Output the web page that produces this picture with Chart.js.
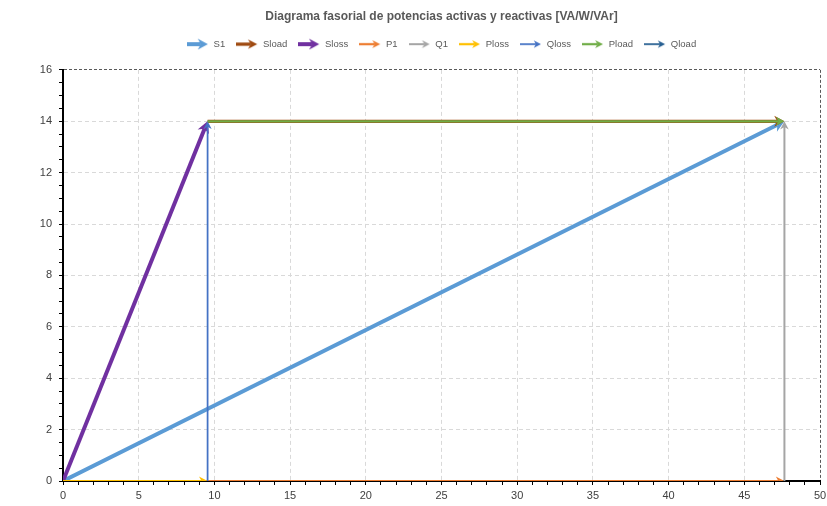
<!DOCTYPE html>
<html>
<head>
<meta charset="utf-8">
<title>Diagrama fasorial</title>
<style>
  html, body { margin: 0; padding: 0; background: #ffffff; }
  #wrap { width: 827px; height: 506px; }
</style>
<script src="https://cdn.jsdelivr.net/npm/chart.js@4/dist/chart.umd.min.js"></script>
</head>
<body>
<div id="wrap"><canvas id="c" width="827" height="506"></canvas></div>
<script>
// Phasor vectors: each series is one arrow from (xStart, yStart) to (xEnd, yEnd)
const seriesNames = ['S1', 'Sload', 'Sloss', 'P1', 'Q1', 'Ploss', 'Qloss', 'Pload', 'Qload'];
const xStart = [0,     9.55,  0,    0,     47.65, 0,    9.55, 9.55,  47.65];
const yStart = [0,     14,    0,    0,     0,     0,    0,    14,    14];
const xEnd   = [47.65, 47.65, 9.55, 47.65, 47.65, 9.55, 9.55, 47.65, 47.65];
const yEnd   = [14,    14,    14,   0,     14,    0,    14,   14,    14];

// Axis ranges and tick steps
const xRange = [0, 50];
const yRange = [0, 16];
const xMinorStep = 1, xMajorStep = 5;
const yMinorStep = 0.5, yMajorStep = 2;

// Series styling
const seriesColors = ['#5B9BD5', '#9E480E', '#7030A0', '#ED7D31', '#A5A5A5', '#FFC000', '#4472C4', '#70AD47', '#255E91'];
const seriesWidths = [4, 3.25, 4, 2.25, 2, 2.25, 1.75, 2.25, 1.75];

const FONT = "'Liberation Sans', Arial, sans-serif";
Chart.defaults.font.family = FONT;

function headGeom(lw) {
  const L = 5 + 1.6 * lw;
  const W = 2.5 + 0.9 * lw;
  return { L, W, notch: 0.3 * L };
}

// Filled "stealth" arrow head with its tip at (x1, y1)
function drawHead(ctx, x0, y0, x1, y1, lw, color) {
  const ang = Math.atan2(y1 - y0, x1 - x0);
  const g = headGeom(lw);
  ctx.save();
  ctx.translate(x1, y1);
  ctx.rotate(ang);
  ctx.beginPath();
  ctx.moveTo(0, 0);
  ctx.lineTo(-g.L, g.W);
  ctx.lineTo(-g.L + g.notch, 0);
  ctx.lineTo(-g.L, -g.W);
  ctx.closePath();
  ctx.fillStyle = color;
  ctx.fill();
  ctx.restore();
}

// Legend symbols: short arrow per series
const ICON_W = 22;
const legendIcons = seriesNames.map((n, i) => {
  const cv = document.createElement('canvas');
  cv.width = ICON_W; cv.height = 12;
  const c = cv.getContext('2d');
  const lw = Math.min(seriesWidths[i], 4);
  const g = headGeom(lw * 0.8);
  c.strokeStyle = seriesColors[i];
  c.lineWidth = lw;
  c.beginPath();
  c.moveTo(0, 6);
  c.lineTo(ICON_W - 1 - g.L + g.notch, 6);
  c.stroke();
  drawHead(c, 0, 6, ICON_W - 1, 6, lw * 0.8, seriesColors[i]);
  return cv;
});

function endPoints(meta) {
  const a = meta.data[0], b = meta.data[1];
  if (!a || !b) return null;
  const dx = b.x - a.x, dy = b.y - a.y;
  if (Math.hypot(dx, dy) < 0.5) return null;
  return { a, b };
}

// Stops each line at its arrow head and draws the head on top
const arrowHeads = {
  id: 'arrowHeads',
  beforeDatasetDraw(chart, args) {
    const ctx = chart.ctx;
    ctx.save();
    const p = endPoints(args.meta);
    if (!p) return;
    const i = args.index;
    const lw = seriesWidths[i];
    const g = headGeom(lw);
    const ang = Math.atan2(p.b.y - p.a.y, p.b.x - p.a.x);
    const cos = Math.cos(ang), sin = Math.sin(ang);
    const h = lw / 2 + 1;
    const pts = [[-g.L + g.notch, -h], [lw + 2, -h], [lw + 2, h], [-g.L + g.notch, h]].map(([u, v]) =>
      [p.b.x + u * cos - v * sin, p.b.y + u * sin + v * cos]);
    ctx.beginPath();
    ctx.rect(0, 0, chart.width, chart.height);
    ctx.moveTo(pts[0][0], pts[0][1]);
    for (let k = 1; k < pts.length; k++) ctx.lineTo(pts[k][0], pts[k][1]);
    ctx.closePath();
    ctx.clip('evenodd');
  },
  afterDatasetDraw(chart, args) {
    const ctx = chart.ctx;
    ctx.restore();
    const p = endPoints(args.meta);
    if (!p) return;
    const area = chart.chartArea;
    ctx.save();
    ctx.beginPath();
    ctx.rect(area.left, area.top, area.right - area.left, area.bottom - area.top);
    ctx.clip();
    drawHead(ctx, p.a.x, p.a.y, p.b.x, p.b.y, seriesWidths[args.index], seriesColors[args.index]);
    ctx.restore();
  }
};

// Title and legend are centred over the plot area rather than the whole canvas
const centreOverPlot = {
  id: 'centreOverPlot',
  afterLayout(chart) {
    const area = chart.chartArea;
    [chart.titleBlock, chart.legend].forEach(box => {
      if (!box) return;
      box.left = area.left;
      box.right = area.right;
      box.width = area.right - area.left;
    });
  }
};

const datasets = seriesNames.map((name, i) => ({
  label: name,
  data: [{ x: xStart[i], y: yStart[i] }, { x: xEnd[i], y: yEnd[i] }],
  showLine: true,
  borderColor: seriesColors[i],
  backgroundColor: seriesColors[i],
  borderWidth: seriesWidths[i],
  pointRadius: 0,
  pointHoverRadius: 0,
  fill: false,
  order: seriesNames.length - i
}));

function isMult(v, step) {
  return Math.abs(v / step - Math.round(v / step)) < 1e-6;
}

new Chart(document.getElementById('c'), {
  type: 'scatter',
  data: { datasets },
  plugins: [arrowHeads, centreOverPlot],
  options: {
    responsive: false,
    animation: false,
    devicePixelRatio: 1,
    layout: { padding: { left: 0, right: 7, top: 0, bottom: 0 } },
    plugins: {
      tooltip: { enabled: false },
      title: {
        display: true,
        text: 'Diagrama fasorial de potencias activas y reactivas [VA/W/VAr]',
        color: '#595959',
        font: { family: FONT, size: 12, weight: 'bold' },
        padding: { top: 9, bottom: 5 }
      },
      // empty spacer between the legend and the plot area
      subtitle: {
        display: true,
        text: '',
        weight: 500,
        font: { size: 1, lineHeight: 1 },
        padding: { top: 0, bottom: 10 }
      },
      legend: {
        display: true,
        position: 'top',
        labels: {
          color: '#595959',
          font: { family: FONT, size: 9.5 },
          usePointStyle: true,
          pointStyleWidth: ICON_W,
          boxHeight: 10,
          padding: 11,
          sort: (a, b) => a.datasetIndex - b.datasetIndex,
          generateLabels(chart) {
            const items = Chart.defaults.plugins.legend.labels.generateLabels(chart);
            items.forEach(it => { it.pointStyle = legendIcons[it.datasetIndex]; });
            return items;
          }
        }
      }
    },
    scales: {
      x: {
        type: 'linear',
        min: xRange[0],
        max: xRange[1],
        afterFit(scale) {
          scale.height = 25;
          scale.paddingLeft = 0;
          scale.paddingRight = 0;
        },
        ticks: {
          stepSize: xMinorStep,
          autoSkip: false,
          maxRotation: 0,
          padding: 4,
          color: '#404040',
          font: { family: FONT, size: 11 },
          callback: v => isMult(v, xMajorStep) ? v : ''
        },
        grid: {
          drawTicks: true,
          tickLength: 4,
          tickColor: '#000000',
          lineWidth: 1,
          color: ctx => {
            const v = ctx.tick ? ctx.tick.value : 0;
            if (v === xRange[1]) return '#595959';
            return isMult(v, xMajorStep) ? '#D9D9D9' : 'rgba(0,0,0,0)';
          }
        },
        border: {
          display: true,
          color: '#000000',
          width: 2,
          dash: ctx => (ctx.tick && ctx.tick.value === xRange[1]) ? [3, 2] : [4, 3]
        }
      },
      y: {
        type: 'linear',
        min: yRange[0],
        max: yRange[1],
        afterFit(scale) { scale.width = 63; },
        ticks: {
          stepSize: yMinorStep,
          autoSkip: false,
          padding: 7,
          color: '#404040',
          font: { family: FONT, size: 11 },
          callback: v => isMult(v, yMajorStep) ? v : ''
        },
        grid: {
          drawTicks: true,
          tickLength: 4,
          tickColor: '#000000',
          lineWidth: 1,
          color: ctx => {
            const v = ctx.tick ? ctx.tick.value : 0;
            if (v === yRange[1]) return '#595959';
            return isMult(v, yMajorStep) ? '#D9D9D9' : 'rgba(0,0,0,0)';
          }
        },
        border: {
          display: true,
          color: '#000000',
          width: 2,
          dash: ctx => (ctx.tick && ctx.tick.value === yRange[1]) ? [3, 2] : [4, 3]
        }
      }
    }
  }
});
</script>
</body>
</html>
